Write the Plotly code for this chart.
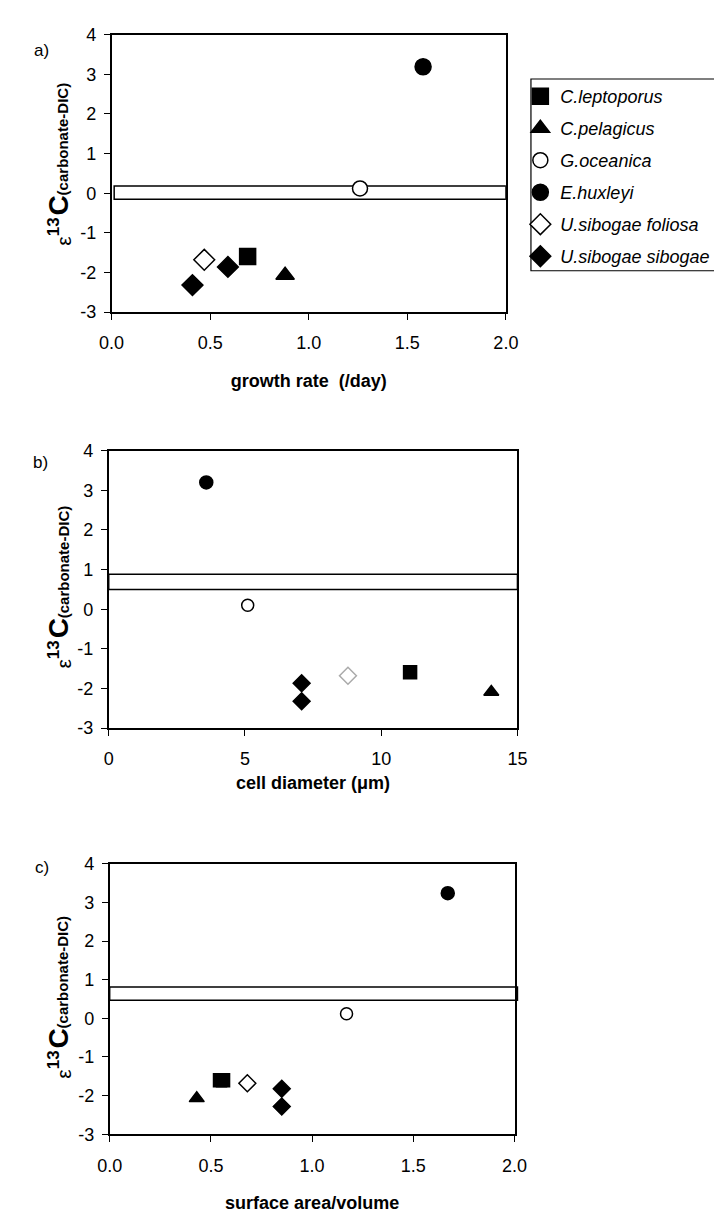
import plotly.graph_objects as go

# ---------------- data ----------------
species = ["C.leptoporus", "C.pelagicus", "G.oceanica", "E.huxleyi",
           "U.sibogae foliosa", "U.sibogae sibogae"]

# panel a: growth rate (/day)
a_species = ["C.leptoporus", "C.pelagicus", "G.oceanica", "E.huxleyi",
             "U.sibogae foliosa", "U.sibogae sibogae", "U.sibogae sibogae"]
a_growth = [0.69, 0.88, 1.26, 1.58, 0.47, 0.59, 0.41]
a_eps = [-1.60, -2.07, 0.12, 3.19, -1.68, -1.86, -2.32]
a_band = [-0.15, 0.18]

# panel b: cell diameter (um)
b_species = ["C.leptoporus", "C.pelagicus", "G.oceanica", "E.huxleyi",
             "U.sibogae foliosa", "U.sibogae sibogae", "U.sibogae sibogae"]
b_diam = [11.06, 14.04, 5.10, 3.58, 8.78, 7.08, 7.08]
b_eps = [-1.59, -2.09, 0.10, 3.20, -1.68, -1.87, -2.32]
b_band = [0.50, 0.88]

# panel c: surface area / volume
c_species = ["C.leptoporus", "C.leptoporus", "C.pelagicus", "G.oceanica", "E.huxleyi",
             "U.sibogae foliosa", "U.sibogae sibogae", "U.sibogae sibogae"]
c_sav = [0.545, 0.56, 0.43, 1.17, 1.67, 0.68, 0.85, 0.85]
c_eps = [-1.60, -1.60, -2.07, 0.12, 3.24, -1.68, -1.82, -2.28]
c_band = [0.47, 0.81]

y_ticks = [4, 3, 2, 1, 0, -1, -2, -3]
y_ticktext = ["4", "3", "2", "1", "0", "-1", "-2", "-3"]
a_xticks = [0.0, 0.5, 1.0, 1.5, 2.0]
b_xticks = [0, 5, 10, 15]
c_xticks = [0.0, 0.5, 1.0, 1.5, 2.0]

# y-axis title pieces: epsilon, superscript 13, C, subscript
ytitle_parts = ["ε", "13", "C", "(carbonate-DIC)"]

# ---------------- styles ----------------
sym = {"C.leptoporus": "square", "C.pelagicus": "triangle-up", "G.oceanica": "circle",
       "E.huxleyi": "circle", "U.sibogae foliosa": "diamond", "U.sibogae sibogae": "diamond"}
fillc = {"C.leptoporus": "black", "C.pelagicus": "black", "G.oceanica": "white",
         "E.huxleyi": "black", "U.sibogae foliosa": "white", "U.sibogae sibogae": "black"}

W, H = 722, 1212
FONT = "Liberation Sans, Arial, sans-serif"

fig = go.Figure()

panels = [
    ("x", "y", a_species, a_growth, a_eps, 16, "black"),
    ("x2", "y2", b_species, b_diam, b_eps, 13, "#aaaaaa"),
    ("x3", "y3", c_species, c_sav, c_eps, 13, "black"),
]
for pi, (xa, ya, sp_list, xs, ys, msize, foliosa_line) in enumerate(panels):
    for sp in species:
        px = [x for s, x in zip(sp_list, xs) if s == sp]
        py = [y for s, y in zip(sp_list, ys) if s == sp]
        lc = foliosa_line if sp == "U.sibogae foliosa" else "black"
        sz = msize
        if sym[sp] == "circle" and fillc[sp] == "white":
            sz = msize - 1
        fig.add_trace(go.Scatter(
            x=px, y=py, mode="markers", xaxis=xa, yaxis=ya,
            name="<i>" + sp + "</i>", legendgroup=sp,
            showlegend=(pi == 0),
            marker=dict(symbol=sym[sp], size=sz, color=fillc[sp],
                        line=dict(color=lc, width=1.5)),
            hoverinfo="skip",
        ))


def px2x(p):
    return p / W


def px2y(p):
    return 1 - p / H


dom = {
    "a": ([px2x(94), px2x(503)], [px2y(299), px2y(17)]),
    "b": ([px2x(91), px2x(515)], [px2y(722), px2y(440)]),
    "c": ([px2x(92), px2x(512)], [px2y(1135), px2y(860)]),
}

axis_common = dict(showgrid=False, zeroline=False, showline=True, linecolor="black",
                   linewidth=1.6, mirror=True, ticks="outside", ticklen=6,
                   tickwidth=1.4, tickcolor="black",
                   tickfont=dict(family=FONT, size=18, color="black"))

xtitle_font = dict(family=FONT, size=18, color="black", weight="bold")

fig.update_layout(
    width=W, height=H, margin=dict(l=0, r=0, t=0, b=0),
    plot_bgcolor="white", paper_bgcolor="white",
    font=dict(family=FONT, color="black"),
    xaxis=dict(domain=dom["a"][0], anchor="y", range=[0, 2], tickvals=a_xticks,
               ticktext=["%.1f" % v for v in a_xticks], ticklabelstandoff=8,
               title=dict(text="growth rate  (/day)", font=xtitle_font, standoff=22),
               **axis_common),
    yaxis=dict(domain=dom["a"][1], anchor="x", range=[-3, 4], tickvals=y_ticks,
               ticktext=y_ticktext, ticklabelstandoff=4, **axis_common),
    xaxis2=dict(domain=dom["b"][0], anchor="y2", range=[0, 15], tickvals=b_xticks,
                ticktext=[str(v) for v in b_xticks], ticklabelstandoff=8,
                title=dict(text="cell diameter (μm)", font=xtitle_font, standoff=8),
                **axis_common),
    yaxis2=dict(domain=dom["b"][1], anchor="x2", range=[-3, 4], tickvals=y_ticks,
                ticktext=y_ticktext, ticklabelstandoff=4, **axis_common),
    xaxis3=dict(domain=dom["c"][0], anchor="y3", range=[0, 2], tickvals=c_xticks,
                ticktext=["%.1f" % v for v in c_xticks], ticklabelstandoff=8,
                title=dict(text="surface area/volume", font=xtitle_font, standoff=22),
                **axis_common),
    yaxis3=dict(domain=dom["c"][1], anchor="x3", range=[-3, 4], tickvals=y_ticks,
                ticktext=y_ticktext, ticklabelstandoff=4, **axis_common),
    legend=dict(x=px2x(518), y=px2y(61), xanchor="left", yanchor="top",
                bgcolor="rgba(0,0,0,0)", borderwidth=0,
                font=dict(family=FONT, size=18, color="black"),
                tracegroupgap=5.6, itemwidth=30),
    showlegend=True,
)

# bands (rectangles)
fig.add_shape(type="rect", xref="x", yref="y", x0=0.013, x1=2.0, y0=a_band[0], y1=a_band[1],
              line=dict(color="black", width=1.5), fillcolor="rgba(0,0,0,0)", layer="below")
fig.add_shape(type="rect", xref="x2", yref="y2", x0=0, x1=15, y0=b_band[0], y1=b_band[1],
              line=dict(color="black", width=1.5), fillcolor="rgba(0,0,0,0)", layer="below")
fig.add_shape(type="rect", xref="paper", yref="y3", x0=px2x(92), x1=px2x(515),
              y0=c_band[0], y1=c_band[1],
              line=dict(color="black", width=1.5), fillcolor="rgba(0,0,0,0)", layer="below")

# legend frame
fig.add_shape(type="rect", xref="paper", yref="paper", x0=px2x(529), x1=px2x(724),
              y0=px2y(257), y1=px2y(62), line=dict(color="black", width=1.2))

# y titles built from rotated pieces (reading bottom -> top)
# (size, weight, offset along axis from title centre [px, +down], x centre [px])
piece_style = [(21, "normal", 77, 44), (17, "bold", 62, 34),
               (28, "bold", 41, 39), (15, "bold", -27, 44)]
for ycen in [150, 580, 997]:
    for txt, (fs, fw, dy, xc) in zip(ytitle_parts, piece_style):
        fig.add_annotation(text=txt, xref="paper", yref="paper",
                           x=px2x(xc), y=px2y(ycen + dy),
                           textangle=-90, showarrow=False,
                           xanchor="center", yanchor="middle",
                           font=dict(family=FONT, size=fs, color="black", weight=fw))

for lab, (lx, ly) in zip(["a)", "b)", "c)"], [(21, 33), (20, 452), (22, 864)]):
    fig.add_annotation(text=lab, xref="paper", yref="paper", x=px2x(lx), y=px2y(ly),
                       showarrow=False, xanchor="center", yanchor="middle",
                       font=dict(family=FONT, size=17, color="black"))

fig.write_html("out.html")
